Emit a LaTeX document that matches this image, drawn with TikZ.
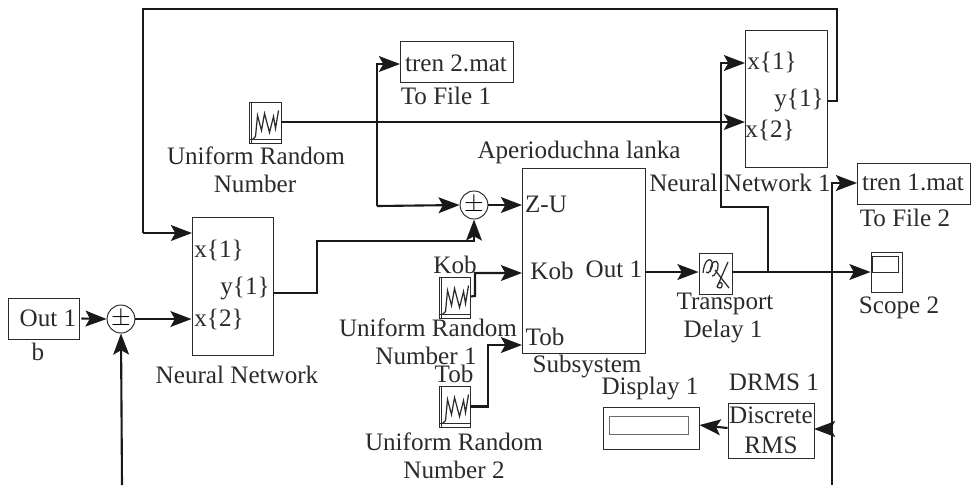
\documentclass[tikz,border=0pt]{standalone}
\usepackage{amsmath}
\usepackage{fontspec}
\usepackage{xcolor}
\setmainfont{Liberation Serif}
\usetikzlibrary{arrows.meta,shapes.geometric}
\def\u{0.02cm}
\definecolor{ink}{HTML}{2B2B2B}
\tikzset{
    blk/.style={draw=ink, line width=0.55pt, inner sep=0pt, fill=white},
    sumblk/.style={draw=ink, ellipse, line width=0.55pt, inner sep=0pt, minimum width=22*\u, minimum height=28*\u, font=\fontsize{14}{14}\selectfont},
    lbl/.style={inner sep=0pt, text=ink, align=center, font=\fontsize{14.3}{14.3}\selectfont},
    wire/.style={draw=black!90, line width=1.2pt},
    arr/.style={wire, -{Stealth[length=12pt, width=9pt, inset=2.5pt]}},
    lineicon/.style={draw=ink, line width=0.7pt}
}
\begin{document}
\begin{tikzpicture}[x=\u, y=-\u]
            \useasboundingbox (0,0) rectangle (972,485);
            % blocks
            \node[blk, minimum width=71*\u, minimum height=41*\u] (outa) at (43.5,318.5) {};
            \node[sumblk] (suma) at (121,319) {$\pm$};
            \node[blk, minimum width=81*\u, minimum height=138*\u] (nna) at (232.5,286) {};
            \node[blk, minimum width=82*\u, minimum height=137*\u] (nnb) at (786,98.5) {};
            \node[blk, minimum width=113*\u, minimum height=41*\u] (filea) at (456.5,61.5) {};
            \node[blk, minimum width=113*\u, minimum height=41*\u] (fileb) at (913.5,183.5) {};
            \node[sumblk] (sumb) at (474,205) {$\pm$};
            \node[blk, minimum width=123*\u, minimum height=185*\u] (subs) at (583.5,260.5) {};
            \node[blk, minimum width=33*\u, minimum height=41*\u] (delay) at (715.5,273.5) {};
            \node[blk, minimum width=31*\u, minimum height=40*\u] (scope) at (886.5,272) {};
            \node[blk, minimum width=26*\u, minimum height=16*\u] (screen) at (885,264) {};
            \node[blk, minimum width=96*\u, minimum height=42*\u] (disp) at (651,428) {};
            \node[blk, draw=ink!70, minimum width=79*\u, minimum height=18*\u] (dispin) at (648.5,425) {};
            \node[blk, minimum width=86*\u, minimum height=55*\u] (rms) at (771,430.5) {};
            \node[blk, minimum width=32*\u, minimum height=41*\u] (rnda) at (265,122.5) {};
            \node[blk, minimum width=31*\u, minimum height=41*\u] (rndb) at (454.5,297.5) {};
            \node[blk, minimum width=31*\u, minimum height=41*\u] (rndc) at (454.5,406.5) {};
            % noise icons
            \foreach \r in {rnda,rndb,rndc}{
                \draw[ink, line width=0.4pt] ([xshift=3*\u]\r.north west) -- ([xshift=3*\u]\r.south west);
                \draw[ink, line width=0.4pt] ([yshift=4*\u]\r.south west) -- ([yshift=4*\u]\r.south east);
                \draw[lineicon] ([xshift=4*\u,yshift=4*\u]\r.south west) -- ++(3,-3) -- ++(2,-21) -- ++(4,15) -- ++(3,-17) -- ++(5,19) -- ++(4,-16) -- ++(2,12) -- ++(3,-18);
            }
            % transport delay icon
            \draw[lineicon] (703,273) .. controls (704,262) and (709,256) .. (712,262) .. controls (714,267) and (708,276) .. (706,272);
            \draw[lineicon] (710,272) .. controls (711,262) and (716,258) .. (718,264) .. controls (719,270) and (714,277) .. (712,276);
            \draw[lineicon] (728,262) -- (717,287) .. controls (719,280) and (723,282) .. (722,286) .. controls (721,289) and (719,288) .. (717,287);
            \draw[lineicon] (715,270) -- (729,288);
            % wires
            \coordinate (botl) at (122,485);
            \coordinate (botr) at (832,485);
            \coordinate (nnaxa) at (192,233);
            \coordinate (nnay) at (273,293);
            \coordinate (nnbxa) at (745,63);
            \coordinate (nnbxb) at (745,122);
            \coordinate (nnby) at (827,101);
            \coordinate (fdbk) at (837,9);
            \coordinate (fdbl) at (143,9);
            \coordinate (fileain) at (400,64);
            \coordinate (filebin) at (857,183);
            \coordinate (subza) at (522,205);
            \coordinate (subka) at (522,273);
            \coordinate (subta) at (522,345);
            \coordinate (subout) at (645,272);
            \coordinate (split) at (768,272);
            \coordinate (rndout) at (281,122);
            \coordinate (branch) at (377,206);
            \coordinate (rmsin) at (814,429);
            \draw[arr] (outa.east) ++(2,0) -- (suma.west);
            \draw[arr] (suma.east) -- (suma.east -| nna.west);
            \draw[arr] (botl) -- (suma.south);
            \draw[wire] (nnby) -- (nnby -| fdbk) -- (fdbk) -- (fdbl) -- (fdbl |- nnaxa);
            \draw[arr] (fdbl |- nnaxa) -- (nnaxa);
            \draw[arr] (nnay) -- (317,293) -- (317,241) -- (474,241) -- (sumb.south);
            \draw[arr] (rndout) -- (nnbxb);
            \draw[arr] (branch) -- (sumb.west);
            \draw[arr] (branch) -- (fileain -| branch) -- (fileain);
            \draw[arr] (sumb.east) -- (subza);
            \draw[arr] (rndb.east) ++(0,-1) -- (475,296) -- (475,273) -- (subka);
            \draw[arr] (rndc.east) -- (488,406.5) -- (488,345) -- (subta);
            \draw[arr] (subout) -- (subout -| delay.west);
            \draw[arr] (split -| delay.east) -- (split -| scope.west);
            \draw[arr] (split) -- (768,207) -- (721,207) -- (721,63) -- (nnbxa);
            \draw[arr] (botr) -- (filebin -| botr) -- (filebin);
            \draw[arr] (botr |- rmsin) -- (rmsin);
            \draw[arr] (rms.west) ++(0,-2.5) -- (disp.east |- dispin.east);
            % labels
            \node[lbl] (outal) at (48,318) {Out 1};
            \node[lbl] (outbl) at (38,352) {b};
            \node[lbl] (nnaxal) at (219,250) {x\{1\}};
            \node[lbl] (nnayl) at (245,288) {y\{1\}};
            \node[lbl] (nnaxbl) at (219,319) {x\{2\}};
            \node[lbl] (nnal) at (237,375) {Neural Network};
            \node[lbl] (nnbxal) at (772,62) {x\{1\}};
            \node[lbl] (nnbyl) at (799,100) {y\{1\}};
            \node[lbl] (nnbxbl) at (770,130) {x\{2\}};
            \node[lbl] (nnbl) at (740,183) {Neural Network 1};
            \node[lbl] (fileat) at (456,63) {tren 2.mat};
            \node[lbl] (fileal) at (446,96) {To File 1};
            \node[lbl] (filebt) at (913,182) {tren 1.mat};
            \node[lbl] (filebl) at (905,218) {To File 2};
            \node[lbl] (rndal) at (256,156) {Uniform Random};
            \node[lbl] (rndalb) at (255,184) {Number};
            \node[lbl] (subtl) at (579,152) {Aperioduchna lanka};
            \node[lbl] (zul) at (546,204) {Z-U};
            \node[lbl] (kobl) at (552,271) {Kob};
            \node[lbl] (outcl) at (614,269) {Out 1};
            \node[lbl] (tobl) at (545,337) {Tob};
            \node[lbl] (subl) at (587,366) {Subsystem};
            \node[lbl] (kobn) at (455,265) {Kob};
            \node[lbl] (rndbl) at (428,328) {Uniform Random};
            \node[lbl] (rndblb) at (426,356) {Number 1};
            \node[lbl] (tobn) at (454,374) {Tob};
            \node[lbl] (rndcl) at (454,442) {Uniform Random};
            \node[lbl] (rndclb) at (454,470) {Number 2};
            \node[lbl] (delayl) at (725,304) {Transport};
            \node[lbl] (delaylb) at (723,331) {Delay 1};
            \node[lbl] (scopel) at (899,308) {Scope 2};
            \node[lbl] (displ) at (650,388) {Display 1};
            \node[lbl] (rmsl) at (774,382) {DRMS 1};
            \node[lbl] (rmst) at (771,430) {Discrete\\[3pt]RMS};
        \end{tikzpicture}
\end{document}
